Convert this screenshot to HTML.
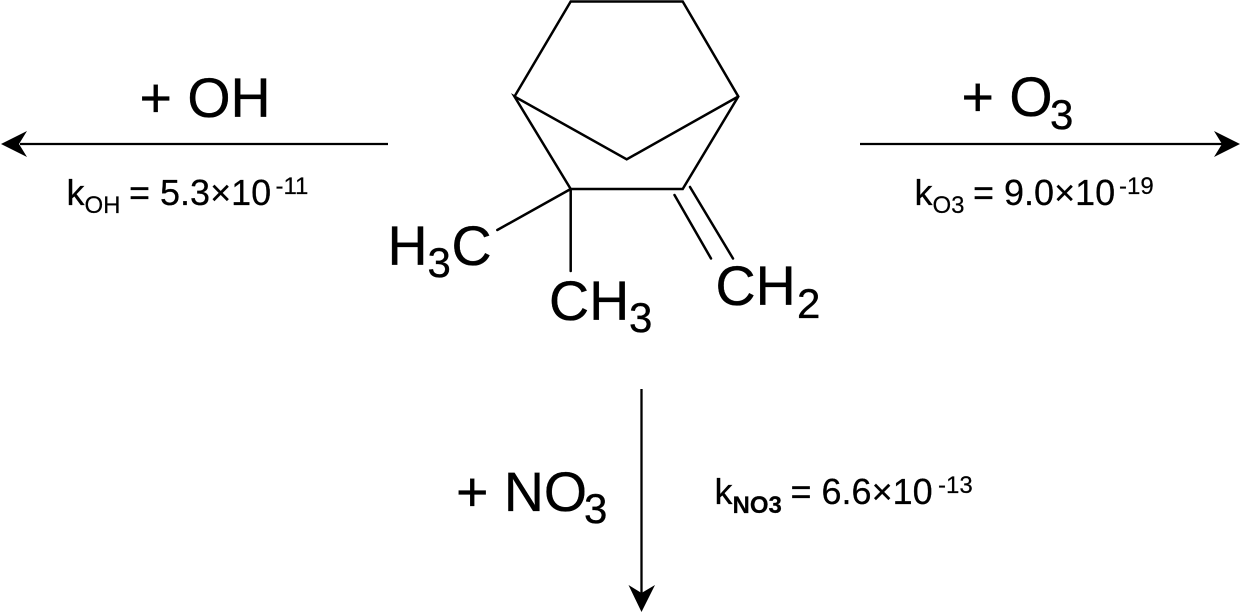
<!DOCTYPE html>
<html>
<head>
<meta charset="utf-8">
<style>
html,body{margin:0;padding:0;background:#fff;width:1241px;height:613px;overflow:hidden}
svg{display:block}
text{font-family:"Liberation Sans",Arial,sans-serif;fill:#000;stroke:#000;stroke-width:.35px}
.b{font-size:55.5px}
.s{font-size:42px}
.k{font-size:36px;stroke-width:.25px}
.u{font-size:24px;stroke-width:.2px}
</style>
</head>
<body>
<svg width="1241" height="613" viewBox="0 0 1241 613" xmlns="http://www.w3.org/2000/svg">
<g stroke="#000" stroke-width="2.5" fill="none" stroke-linecap="round" stroke-linejoin="miter">
<polyline points="514.5,96.5 570.7,1.5 682.7,1.5 738.3,96.5 682.7,189 570.7,189 514.5,96.5 626.7,159.3 738.3,96.5"/>
<line x1="570.7" y1="189" x2="497.3" y2="230"/>
<line x1="570.7" y1="189" x2="570.7" y2="271"/>
<line x1="690" y1="187" x2="733" y2="258.5"/>
<line x1="674.5" y1="195" x2="711" y2="258.5"/>
</g>
<g stroke="#000" stroke-width="2.3">
<line x1="388" y1="144" x2="20" y2="144"/>
<line x1="860" y1="144" x2="1222" y2="144"/>
<line x1="641.5" y1="389" x2="641.5" y2="595"/>
</g>
<polygon points="1,144 27,131 19,144 27,157" fill="#000"/>
<polygon points="1240,144 1214,131 1222,144 1214,157" fill="#000"/>
<polygon points="641.5,612 628.5,585 641.5,593 655,585" fill="#000"/>

<text class="b" x="387.5" y="265">H</text><text class="s" x="427.5" y="277">3</text><text class="b" x="451.5" y="265">C</text>
<text class="b" x="549" y="320">CH</text><text class="s" x="629" y="332">3</text>
<text class="b" x="715.5" y="305">CH</text><text class="s" x="797" y="318">2</text>

<text class="b" x="139.5" y="117">+ OH</text>
<text class="b" x="961.5" y="116">+ O</text><text class="s" x="1050" y="129">3</text>
<text class="b" x="456" y="511">+ NO</text><text class="s" x="584" y="523">3</text>

<text class="k" x="66.5" y="205">k</text><text class="u" x="84.5" y="213">OH</text><text class="k" x="129" y="205">= 5.3×10</text><text class="u" x="275.5" y="194">-11</text>
<text class="k" x="914.5" y="205">k</text><text class="u" x="932.5" y="213">O3</text><text class="k" x="973" y="205">= 9.0×10</text><text class="u" x="1119" y="194">-19</text>
<text class="k" x="714.5" y="504">k</text><text class="u" x="732.5" y="513" font-weight="bold">NO3</text><text class="k" x="790.5" y="504">= 6.6×10</text><text class="u" x="938" y="493">-13</text>
</svg>
</body>
</html>
